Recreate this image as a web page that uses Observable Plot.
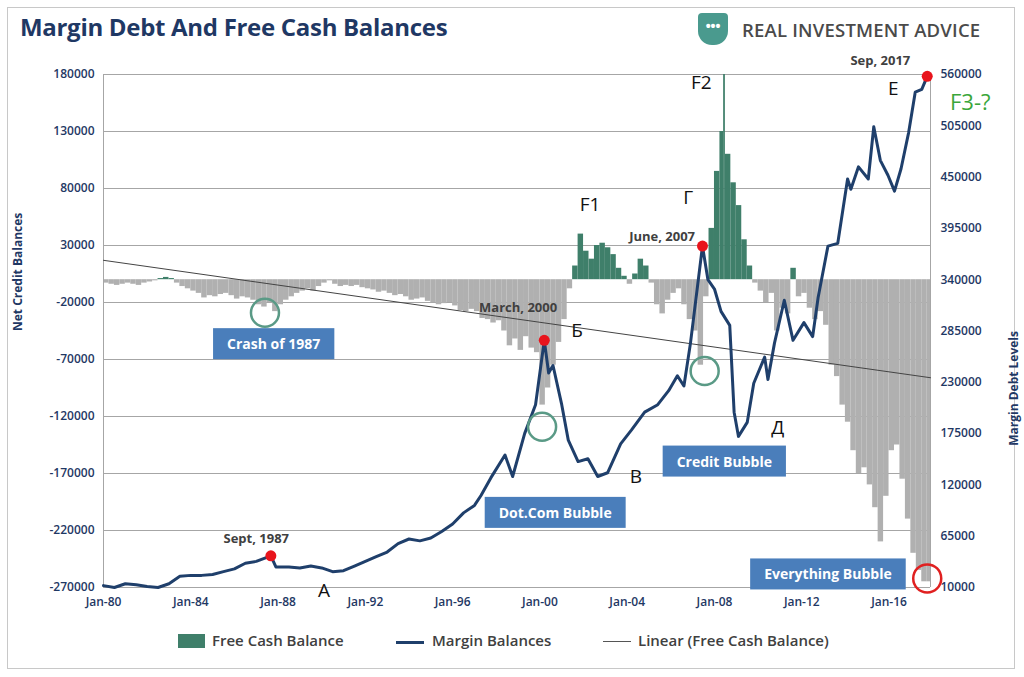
<!DOCTYPE html>
<html><head><meta charset="utf-8">
<script src="https://cdn.jsdelivr.net/npm/d3@7"></script>
<script src="https://cdn.jsdelivr.net/npm/@observablehq/plot@0.6"></script>
<style>
body{margin:0;background:#fff;font-family:"Open Sans",sans-serif;}
#wrap{position:relative;width:1024px;height:677px;}
#frame{position:absolute;left:7px;top:7px;width:1008px;height:662px;border:1px solid #c8c8c8;box-sizing:border-box;}
#title{position:absolute;left:20px;top:10px;font:bold 24px "Open Sans",sans-serif;color:#1f3864;letter-spacing:-0.3px;}
#logo{position:absolute;left:698px;top:13px;display:flex;align-items:center;}
#logo .ic{width:30px;height:32px;background:#4a9a8e;border-radius:4px 4px 14px 14px;color:#fff;font:bold 14px sans-serif;text-align:center;line-height:26px;}
#logo .tx{margin-left:14px;font:600 18.5px "Open Sans",sans-serif;color:#4a4a4a;letter-spacing:0.2px;}
#chart{position:absolute;left:0;top:50px;}
#legend{position:absolute;top:632px;left:0;width:1024px;font:600 15px "Open Sans",sans-serif;color:#404040;}
#legend span{position:absolute;white-space:nowrap;}
#f3{position:absolute;left:950px;top:86px;font:22px "Open Sans",sans-serif;color:#3aa63a;}
</style></head><body>
<div id="wrap">
<div id="frame"></div>
<div id="title">Margin Debt And Free Cash Balances</div>
<div id="logo"><div class="ic">•••</div><div class="tx">REAL INVESTMENT ADVICE</div></div>
<div id="chart"></div>
<div id="f3">F3-?</div>
<div id="legend">
 <span style="left:178px;top:2px;width:27px;height:14px;background:#3f7f6a"></span>
 <span style="left:212px;top:-2px">Free Cash Balance</span>
 <span style="left:396px;top:9px;width:28px;height:3px;background:#1f3f6b"></span>
 <span style="left:432px;top:-2px">Margin Balances</span>
 <span style="left:603px;top:9px;width:28px;height:1px;background:#555"></span>
 <span style="left:638px;top:-2px">Linear (Free Cash Balance)</span>
</div>
</div>
<script>
// Free cash balance (left axis), bar starts at year
const fcbYears = [1980,1980.25,1980.5,1980.75,1981,1981.25,1981.5,1981.75,1982,1982.25,1982.5,1982.75,1983,1983.25,1983.5,1983.75,1984,1984.25,1984.5,1984.75,1985,1985.25,1985.5,1985.75,1986,1986.25,1986.5,1986.75,1987,1987.25,1987.5,1987.75,1988,1988.25,1988.5,1988.75,1989,1989.25,1989.5,1989.75,1990,1990.25,1990.5,1990.75,1991,1991.25,1991.5,1991.75,1992,1992.25,1992.5,1992.75,1993,1993.25,1993.5,1993.75,1994,1994.25,1994.5,1994.75,1995,1995.25,1995.5,1995.75,1996,1996.25,1996.5,1996.75,1997,1997.25,1997.5,1997.75,1998,1998.25,1998.5,1998.75,1999,1999.25,1999.5,1999.75,2000,2000.25,2000.5,2000.75,2001,2001.25,2001.5,2001.75,2002,2002.25,2002.5,2002.75,2003,2003.25,2003.5,2003.75,2004,2004.25,2004.5,2004.75,2005,2005.25,2005.5,2005.75,2006,2006.25,2006.5,2006.75,2007,2007.25,2007.5,2007.75,2008,2008.25,2008.42,2008.5,2008.75,2009,2009.25,2009.5,2009.75,2010,2010.25,2010.5,2010.75,2011,2011.25,2011.5,2011.75,2012,2012.25,2012.5,2012.75,2013,2013.25,2013.5,2013.75,2014,2014.25,2014.5,2014.75,2015,2015.25,2015.5,2015.75,2016,2016.25,2016.5,2016.75,2017,2017.25,2017.5,2017.75];
const fcbValues = [-3000,-4000,-5000,-4000,-3000,-4000,-5000,-3000,-2000,-1000,1000,2000,1000,-3000,-6000,-8000,-10000,-12000,-16000,-14000,-15000,-13000,-12000,-14000,-17000,-15000,-16000,-18000,-22000,-24000,-20000,-28000,-22000,-18000,-15000,-12000,-10000,-8000,-10000,-6000,-3000,-1000,-4000,-6000,-5000,-6000,-5000,-7000,-8000,-9000,-11000,-10000,-12000,-14000,-13000,-15000,-18000,-17000,-16000,-19000,-20000,-22000,-21000,-20000,-23000,-27000,-28000,-26000,-28000,-34000,-35000,-38000,-36000,-45000,-58000,-52000,-62000,-50000,-60000,-64000,-110000,-95000,-75000,-55000,-35000,-8000,12000,40000,25000,18000,30000,32000,28000,22000,10000,3000,-4000,5000,18000,12000,-3000,-22000,-30000,-18000,-12000,-8000,-22000,-35000,-45000,-75000,-15000,45000,95000,130000,180000,110000,85000,65000,35000,12000,-3000,-10000,-20000,-12000,-45000,-25000,-30000,10000,-15000,-12000,-25000,-35000,-28000,-40000,-75000,-85000,-110000,-125000,-150000,-170000,-165000,-180000,-200000,-230000,-190000,-150000,-145000,-175000,-210000,-240000,-255000,-265000,-265000];
const fcbEnd = 2017.9;
// Margin debt (right axis)
const mdYears = [1980,1980.5,1981,1981.5,1982,1982.5,1983,1983.5,1984,1984.5,1985,1985.5,1986,1986.5,1987,1987.67,1987.9,1988.5,1989,1989.5,1990,1990.5,1991,1991.5,1992,1992.5,1993,1993.5,1994,1994.5,1995,1995.5,1996,1996.5,1997,1997.3,1997.75,1998.4,1998.75,1999.3,1999.8,2000.2,2000.4,2000.6,2001,2001.3,2001.75,2002.2,2002.65,2003.1,2003.7,2004.2,2004.8,2005.4,2005.9,2006.3,2006.6,2006.9,2007.45,2007.7,2008,2008.3,2008.7,2008.9,2009.1,2009.5,2009.8,2010.3,2010.45,2010.75,2011.2,2011.6,2012.1,2012.5,2012.75,2013.2,2013.65,2014.1,2014.25,2014.6,2015.05,2015.3,2015.6,2015.95,2016.25,2016.55,2016.9,2017.2,2017.5,2017.75];
const mdValues = [12000,10000,14000,13000,11000,10000,14000,22000,23000,23000,24000,27000,30000,36000,38000,44000,32000,32000,31000,33000,31000,27000,28000,33000,38000,43000,48000,57000,62000,60000,63000,70000,78000,90000,98000,108600,127500,152000,129000,175000,206000,275000,240000,248000,206000,168000,145000,148000,129000,133000,164000,179000,198000,206000,221000,237000,226000,272000,376000,340000,330000,306000,291000,198000,172000,187000,229000,257000,233000,272000,318000,275000,294000,279000,321000,376000,379000,448000,437000,461000,448000,504000,468000,452000,435000,459000,498000,541000,544000,558000];
const trendYears = [1980, 2017.9];
const trendValues = [17000, -86000];
const leftTicks = [-270000,-220000,-170000,-120000,-70000,-20000,30000,80000,130000,180000];
const rightTicks = [10000,65000,120000,175000,230000,285000,340000,395000,450000,505000,560000];
const xTicks = [1980,1984,1988,1992,1996,2000,2004,2008,2012,2016];

const toLeft = v => -270000 + (v - 10000) / 550000 * 450000;
const toRight = t => 10000 + (t + 270000) / 450000 * 550000;

const bars = fcbYears.map((y,i)=>({x1:y, x2: i<fcbYears.length-1?fcbYears[i+1]:fcbEnd, v:fcbValues[i]}));
const margin = mdYears.map((y,i)=>({x:y, y:toLeft(mdValues[i])}));
const trend = trendYears.map((y,i)=>({x:y,y:trendValues[i]}));
const redDots = [1987.67,2000.2,2007.45,2017.75].map(y=>margin.find(d=>d.x===y));
const dotLabels = [
 {x:1987.0,y:toLeft(62000),t:"Sept, 1987"},
 {x:1999.0,y:toLeft(310000),t:"March, 2000"},
 {x:2005.6,y:toLeft(386000),t:"June, 2007"},
 {x:2015.6,y:toLeft(575000),t:"Sep, 2017"}];
const letters = [
 {x:1990.1,y:-273000,t:"A"},{x:2001.7,y:-45000,t:"Б"},{x:2004.4,y:-173000,t:"B"},
 {x:2006.8,y:72000,t:"Г"},{x:2010.9,y:-130000,t:"Д"},{x:2016.2,y:167000,t:"E"},
 {x:2002.3,y:66000,t:"F1"},{x:2007.4,y:173000,t:"F2"}];
const boxes = [
 {x:1987.8,y:-57000,t:"Crash of 1987"},{x:2000.7,y:-205000,t:"Dot.Com Bubble"},
 {x:2008.45,y:-160000,t:"Credit Bubble"},{x:2013.2,y:-259000,t:"Everything Bubble"}];
const rings = [
 {x:1987.4,y:-29000,c:"#5a9a86"},{x:2000.1,y:-129000,c:"#5a9a86"},
 {x:2007.55,y:-80000,c:"#5a9a86"},{x:2017.75,y:-262000,c:"#e02020"}];

const tickStyle = {fill:"#1f3864",fontWeight:600,fontSize:12};
const chart = Plot.plot({
  width:1024, height:570, marginLeft:103, marginRight:94, marginTop:24, marginBottom:33,
  style:{fontFamily:"Open Sans, sans-serif", fontSize:"12px", color:"#1f3864", overflow:"visible"},
  x:{domain:[1980,2017.9]},
  y:{domain:[-270000,180000]},
  marks:[
    Plot.gridY(leftTicks,{stroke:"#a6a6a6",strokeOpacity:1}),
    Plot.rect(bars,{x1:"x1",x2:"x2",y1:0,y2:"v",fill:d=>d.v>=0?"#3f7f6a":"#b0b0b0",inset:0}),
    Plot.ruleX([1980],{stroke:"#a6a6a6"}),
    Plot.ruleX([2017.9],{stroke:"#a6a6a6"}),
    Plot.line(trend,{x:"x",y:"y",stroke:"#444",strokeWidth:1}),
    Plot.line(margin,{x:"x",y:"y",stroke:"#1f3f6b",strokeWidth:3,curve:"linear",strokeLinejoin:"round"}),
    Plot.dot(redDots,{x:"x",y:"y",r:5.5,fill:"#e8141c"}),
    Plot.dot(rings,{x:"x",y:"y",r:14,stroke:"c",strokeWidth:2.5,fill:"none"}),
    Plot.text(dotLabels,{x:"x",y:"y",text:"t",fill:"#404040",fontWeight:700,fontSize:13}),
    Plot.text(letters,{x:"x",y:"y",text:"t",fill:"#111",fontSize:19}),
    Plot.text(boxes,{x:"x",y:"y",text:"t",fill:"#fff",fontWeight:700,fontSize:14,className:"boxlbl"}),
    Plot.axisY(leftTicks,{anchor:"left",tickSize:0,tickFormat:d=>String(d),...tickStyle,label:null}),
    Plot.axisY(rightTicks.map(toLeft),{anchor:"right",tickSize:0,tickPadding:10,tickFormat:d=>String(Math.round(toRight(d))),...tickStyle,label:null}),
    Plot.axisX(xTicks,{tickSize:0,tickPadding:10,tickFormat:d=>"Jan-"+String(d%100).padStart(2,"0"),...tickStyle,label:null}),
    Plot.text(["Net Credit Balances"],{frameAnchor:"left",dx:-85,rotate:-90,fill:"#1f3864",fontWeight:700,fontSize:12}),
    Plot.text(["Margin Debt Levels"],{frameAnchor:"right",dx:84,rotate:-90,fill:"#1f3864",fontWeight:700,fontSize:12})
  ]
});
document.getElementById("chart").appendChild(chart);
d3.select(chart).selectAll("g.boxlbl text").each(function(){
  const b=this.getBBox();
  d3.select(this.parentNode).insert("rect",()=>this)
    .attr("transform",this.getAttribute("transform"))
    .attr("x",b.x-14).attr("y",b.y-6).attr("width",b.width+28).attr("height",b.height+12)
    .attr("fill","#4a7ebb");
});
</script>
</body></html>
